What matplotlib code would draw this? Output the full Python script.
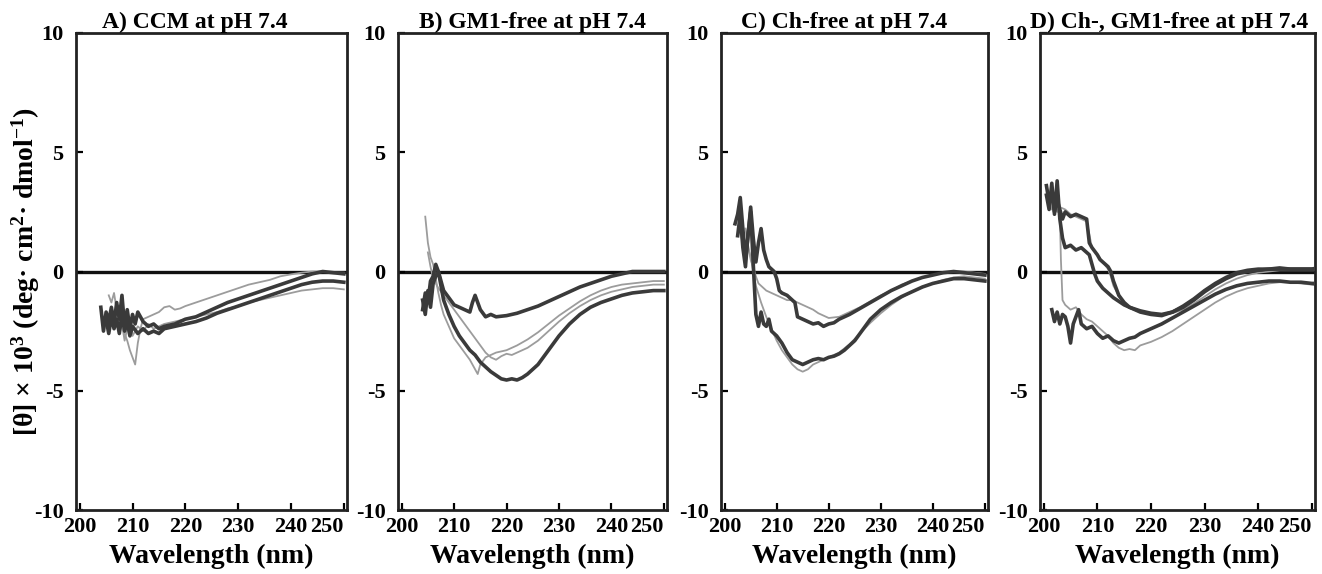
"""CD spectra of the peptide in four membrane compositions at pH 7.4."""

import matplotlib

matplotlib.use("Agg")
import matplotlib.pyplot as plt

plt.rcParams["font.family"] = ["Liberation Serif", "DejaVu Serif"]
plt.rcParams["font.weight"] = "bold"
plt.rcParams["axes.unicode_minus"] = False
plt.rcParams["mathtext.fontset"] = "custom"
plt.rcParams["mathtext.rm"] = "Liberation Serif:bold"
plt.rcParams["mathtext.bf"] = "Liberation Serif:bold"
plt.rcParams["mathtext.default"] = "rm"

titles = [
    "A) CCM at pH 7.4",
    "B) GM1-free at pH 7.4",
    "C) Ch-free at pH 7.4",
    "D) Ch-, GM1-free at pH 7.4",
]
x_ticks = [200, 210, 220, 230, 240, 250]
y_ticks = [-10, -5, 0, 5, 10]

# ---- panel A: CCM ----
a_dark1_wl = [204, 204.5, 205, 205.5, 206, 206.5, 207, 207.5, 208, 208.5, 209, 209.5, 210, 210.5, 211,
              212, 213, 214, 215, 216, 218, 220, 222, 224, 226, 228, 230, 232, 234, 236, 238, 240, 242,
              244, 246, 248, 250]
a_dark1 = [-1.5, -2.5, -1.7, -2.1, -1.5, -2.2, -1.3, -2.0, -1.0, -2.3, -1.6, -2.4, -1.8, -2.2, -1.7,
           -2.1, -2.3, -2.2, -2.4, -2.3, -2.2, -2.0, -1.9, -1.7, -1.5, -1.3, -1.15, -1.0, -0.85, -0.7,
           -0.55, -0.4, -0.25, -0.1, 0.0, -0.05, -0.1]
a_dark2_wl = [205, 205.5, 206, 206.5, 207, 207.5, 208, 208.5, 209, 209.5, 210, 211, 212, 213, 214, 215,
              216, 218, 220, 222, 224, 226, 228, 230, 232, 234, 236, 238, 240, 242, 244, 246, 248, 250]
a_dark2 = [-2.0, -2.6, -1.9, -2.4, -2.0, -2.6, -1.8, -2.5, -2.1, -2.7, -2.3, -2.6, -2.4, -2.6, -2.5, -2.6,
           -2.4, -2.3, -2.2, -2.1, -1.95, -1.75, -1.6, -1.45, -1.3, -1.15, -1.0, -0.85, -0.7, -0.55,
           -0.45, -0.4, -0.4, -0.45]
a_light1_wl = [205.5, 206, 206.5, 207, 207.5, 208, 208.5, 209, 209.5, 210, 210.5, 211, 211.5, 212, 213,
               214, 215, 216, 217, 218, 219, 220, 222, 224, 226, 228, 230, 232, 234, 236, 238, 240,
               242, 244, 246, 248, 250]
a_light1 = [-1.0, -1.3, -0.9, -1.6, -2.2, -1.8, -2.6, -2.9, -3.3, -3.6, -3.9, -3.0, -2.4, -2.0, -1.9,
            -1.8, -1.7, -1.5, -1.45, -1.6, -1.55, -1.45, -1.3, -1.15, -1.0, -0.85, -0.7, -0.55, -0.45,
            -0.35, -0.2, -0.12, -0.05, 0.0, 0.0, -0.05, -0.05]
a_light2_wl = [206, 206.5, 207, 207.5, 208, 208.5, 209, 209.5, 210, 211, 212, 213, 214, 215, 216, 218,
               220, 222, 224, 226, 228, 230, 232, 234, 236, 238, 240, 242, 244, 246, 248, 250]
a_light2 = [-1.6, -2.3, -1.9, -2.6, -2.2, -2.9, -2.4, -2.0, -2.7, -2.3, -2.5, -2.2, -2.4, -2.3, -2.2,
            -2.1, -2.0, -1.9, -1.8, -1.7, -1.55, -1.45, -1.3, -1.2, -1.1, -1.0, -0.9, -0.8, -0.75,
            -0.7, -0.7, -0.75]

# ---- panel B: GM1-free ----
b_dark1_wl = [204, 204.5, 205, 205.5, 206, 206.5, 207, 207.5, 208, 209, 210, 211, 212, 213, 213.5, 214,
              215, 216, 217, 218, 220, 222, 224, 226, 228, 230, 232, 234, 236, 238, 240, 242, 244, 246,
              248, 250]
b_dark1 = [-1.6, -0.9, -1.3, -0.4, -0.2, 0.3, 0.0, -0.4, -0.8, -1.1, -1.4, -1.5, -1.6, -1.7, -1.3, -1.0,
           -1.6, -1.9, -1.8, -1.9, -1.85, -1.75, -1.6, -1.45, -1.25, -1.05, -0.85, -0.65, -0.5, -0.35,
           -0.2, -0.1, 0.0, 0.0, 0.0, 0.0]
b_dark2_wl = [204, 204.5, 205, 205.5, 206, 206.5, 207, 207.5, 208, 209, 210, 211, 212, 213, 214, 215,
              216, 217, 218, 219, 220, 221, 222, 223, 224, 225, 226, 227, 228, 230, 232, 234, 236, 238,
              240, 242, 244, 246, 248, 250]
b_dark2 = [-1.2, -1.8, -0.8, -1.5, -0.5, -0.2, 0.0, -0.6, -1.2, -1.8, -2.3, -2.7, -3.0, -3.3, -3.5, -3.8,
           -4.0, -4.2, -4.35, -4.5, -4.55, -4.5, -4.55, -4.45, -4.3, -4.1, -3.9, -3.6, -3.3, -2.7, -2.2,
           -1.8, -1.5, -1.3, -1.15, -1.0, -0.9, -0.85, -0.8, -0.8]
b_light1_wl = [204.5, 205, 205.5, 206, 206.5, 207, 207.5, 208, 209, 210, 211, 212, 213, 214, 214.5, 215,
               216, 217, 218, 219, 220, 222, 224, 226, 228, 230, 232, 234, 236, 238, 240, 242, 244, 246,
               248, 250]
b_light1 = [2.3, 1.2, 0.6, 0.3, -0.3, -0.9, -1.4, -1.8, -2.3, -2.8, -3.1, -3.4, -3.7, -4.1, -4.3, -3.9,
            -3.6, -3.5, -3.4, -3.35, -3.3, -3.1, -2.85, -2.55, -2.2, -1.85, -1.55, -1.25, -1.0, -0.8,
            -0.65, -0.55, -0.5, -0.45, -0.4, -0.4]
b_light2_wl = [205, 205.5, 206, 206.5, 207, 208, 209, 210, 211, 212, 213, 214, 215, 216, 217, 218, 219,
               220, 221, 222, 224, 226, 228, 230, 232, 234, 236, 238, 240, 242, 244, 246, 248, 250]
b_light2 = [0.8, 0.2, -0.3, -0.5, -0.7, -1.0, -1.3, -1.6, -1.9, -2.2, -2.5, -2.8, -3.1, -3.4, -3.6, -3.7,
            -3.55, -3.45, -3.5, -3.4, -3.2, -2.9, -2.5, -2.1, -1.75, -1.45, -1.2, -1.0, -0.85, -0.75,
            -0.65, -0.6, -0.55, -0.55]

# ---- panel C: Ch-free ----
c_dark1_wl = [202, 202.5, 203, 203.5, 204, 204.5, 205, 205.5, 206, 206.5, 207, 207.5, 208, 208.5, 209,
              209.5, 210, 210.5, 211, 212, 213, 213.5, 214, 215, 216, 217, 218, 219, 220, 221, 222, 224,
              226, 228, 230, 232, 234, 236, 238, 240, 242, 244, 246, 248, 250]
c_dark1 = [2.0, 2.4, 3.1, 1.8, 0.5, 1.5, 2.7, 1.4, 0.4, 1.2, 1.8, 0.9, 0.5, 0.2, 0.1, 0.0, -0.3, -0.8,
           -0.9, -1.0, -1.2, -1.3, -1.9, -2.0, -2.1, -2.2, -2.15, -2.3, -2.2, -2.15, -2.0, -1.8, -1.55,
           -1.3, -1.05, -0.8, -0.6, -0.4, -0.25, -0.15, -0.05, 0.0, -0.05, -0.1, -0.15]
c_dark2_wl = [202.5, 203, 203.5, 204, 204.5, 205, 205.5, 206, 206.5, 207, 207.5, 208, 208.5, 209, 210,
              211, 212, 213, 214, 215, 216, 217, 218, 219, 220, 221, 222, 223, 224, 225, 226, 227, 228,
              230, 232, 234, 236, 238, 240, 242, 244, 246, 248, 250]
c_dark2 = [1.5, 2.4, 1.0, 0.2, 1.6, 2.5, 0.3, -1.8, -2.3, -1.7, -2.2, -2.3, -2.0, -2.5, -2.7, -3.0, -3.4,
           -3.7, -3.8, -3.9, -3.8, -3.7, -3.65, -3.7, -3.6, -3.55, -3.45, -3.3, -3.1, -2.9, -2.6, -2.3,
           -2.0, -1.6, -1.3, -1.05, -0.85, -0.65, -0.5, -0.4, -0.3, -0.3, -0.35, -0.4]
c_light1_wl = [203, 203.5, 204, 204.5, 205, 205.5, 206, 206.5, 207, 208, 209, 210, 211, 212, 213, 214,
               215, 216, 217, 218, 219, 220, 222, 224, 226, 228, 230, 232, 234, 236, 238, 240, 242, 244,
               246, 248, 250]
c_light1 = [1.6, 1.2, 0.8, 1.1, 0.5, 0.2, -0.2, -0.5, -0.6, -0.8, -0.9, -1.0, -1.1, -1.2, -1.2, -1.3,
            -1.4, -1.5, -1.6, -1.75, -1.85, -1.95, -1.9, -1.7, -1.5, -1.25, -1.0, -0.8, -0.55, -0.4,
            -0.25, -0.15, -0.05, 0.0, 0.0, -0.05, -0.1]
c_light2_wl = [204, 204.5, 205, 205.5, 206, 207, 208, 209, 210, 211, 212, 213, 214, 215, 216, 217, 218,
               219, 220, 222, 224, 226, 228, 230, 232, 234, 236, 238, 240, 242, 244, 246, 248, 250]
c_light2 = [1.8, 1.0, 0.6, 0.0, -0.6, -1.3, -1.9, -2.4, -2.9, -3.3, -3.6, -3.9, -4.1, -4.2, -4.1, -3.9,
            -3.8, -3.7, -3.6, -3.4, -3.05, -2.6, -2.15, -1.75, -1.4, -1.1, -0.85, -0.65, -0.5, -0.35,
            -0.25, -0.2, -0.25, -0.3]

# ---- panel D: Ch-, GM1-free ----
d_dark1_wl = [200.5, 201, 201.5, 202, 202.5, 203, 203.5, 204, 205, 206, 207, 208, 208.5, 209, 210,
              210.5, 211, 212, 212.5, 213, 214, 215, 216, 217, 218, 220, 222, 224, 226, 228, 230, 232,
              234, 236, 238, 240, 242, 244, 246, 248, 250, 251]
d_dark1 = [3.6, 2.9, 3.4, 2.5, 3.0, 2.6, 2.2, 2.5, 2.3, 2.4, 2.3, 2.2, 1.2, 1.0, 0.7, 0.5, 0.4, 0.2, 0.0,
           -0.4, -1.0, -1.3, -1.5, -1.6, -1.7, -1.8, -1.85, -1.7, -1.45, -1.15, -0.8, -0.5, -0.25, -0.05,
           0.05, 0.1, 0.1, 0.15, 0.1, 0.1, 0.1, 0.15]
d_dark2_wl = [200.5, 201, 201.5, 202, 202.5, 203, 203.5, 204, 205, 206, 207, 208, 208.5, 209, 209.5,
              210, 211, 212, 213, 214, 215, 216, 218, 220, 222, 224, 226, 228, 230, 232, 234, 236, 238,
              240, 242, 244, 246, 248, 250, 251]
d_dark2 = [3.2, 2.6, 3.7, 2.4, 3.8, 2.2, 1.4, 1.0, 1.1, 0.9, 1.0, 0.8, 0.7, 0.3, -0.1, -0.4, -0.7, -0.9,
           -1.1, -1.25, -1.4, -1.5, -1.65, -1.75, -1.8, -1.7, -1.5, -1.2, -0.85, -0.55, -0.3, -0.1,
           0.0, 0.05, 0.1, 0.1, 0.1, 0.1, 0.1, 0.1]
d_light1_wl = [201, 201.5, 202, 202.5, 203, 204, 205, 206, 207, 208, 209, 210, 211, 212, 212.5, 213, 214,
               215, 216, 218, 220, 222, 224, 226, 228, 230, 232, 234, 236, 238, 240, 242, 244, 246, 248,
               250, 251]
d_light1 = [3.0, 2.6, 2.9, 2.5, 2.7, 2.6, 2.4, 2.3, 2.2, 2.1, 1.0, 0.7, 0.4, 0.1, -0.2, -0.6, -1.0,
            -1.3, -1.5, -1.65, -1.75, -1.8, -1.75, -1.6, -1.35, -1.05, -0.75, -0.5, -0.3, -0.15, -0.05,
            0.0, 0.05, 0.05, 0.05, 0.05, 0.05]
d_dark3_wl = [201.5, 202, 202.5, 203, 203.5, 204, 204.5, 205, 205.5, 206, 206.5, 207, 208, 209, 210, 211,
              212, 213, 214, 215, 216, 217, 218, 219, 220, 222, 224, 226, 228, 230, 232, 234, 236, 238,
              240, 242, 244, 246, 248, 250, 251]
d_dark3 = [-1.6, -2.1, -1.7, -2.2, -1.8, -1.9, -2.3, -3.0, -2.2, -1.9, -1.6, -2.2, -2.4, -2.3, -2.6,
           -2.8, -2.7, -2.9, -3.0, -2.9, -2.8, -2.75, -2.6, -2.5, -2.4, -2.2, -1.95, -1.7, -1.45, -1.2,
           -0.95, -0.75, -0.6, -0.5, -0.45, -0.4, -0.4, -0.45, -0.45, -0.5, -0.5]
d_light2_wl = [202.5, 203, 203.2, 203.5, 204, 205, 206, 207, 208, 209, 210, 211, 212, 213, 214, 215, 216,
               217, 218, 220, 222, 224, 226, 228, 230, 232, 234, 236, 238, 240, 242, 244, 246, 248, 250,
               251]
d_light2 = [2.6, 2.4, 0.5, -1.2, -1.4, -1.6, -1.5, -1.8, -2.0, -2.1, -2.3, -2.5, -2.7, -3.0, -3.2, -3.3,
            -3.25, -3.3, -3.1, -2.95, -2.75, -2.5, -2.2, -1.9, -1.6, -1.3, -1.05, -0.85, -0.7, -0.6,
            -0.5, -0.45, -0.45, -0.5, -0.55, -0.6]

panels = [
    ([(a_dark1_wl, a_dark1), (a_dark2_wl, a_dark2)], [(a_light1_wl, a_light1), (a_light2_wl, a_light2)]),
    ([(b_dark1_wl, b_dark1), (b_dark2_wl, b_dark2)], [(b_light1_wl, b_light1), (b_light2_wl, b_light2)]),
    ([(c_dark1_wl, c_dark1), (c_dark2_wl, c_dark2)], [(c_light1_wl, c_light1), (c_light2_wl, c_light2)]),
    ([(d_dark1_wl, d_dark1), (d_dark2_wl, d_dark2), (d_dark3_wl, d_dark3)],
     [(d_light1_wl, d_light1), (d_light2_wl, d_light2)]),
]

# axes boxes in figure pixels: left, right; title centre as axes fraction
boxes = [(76, 347), (398, 667), (721, 988), (1040, 1315)]
title_x = [0.44, 0.5, 0.46, 0.47]
W, H = 1322, 574
top_px, bottom_px = 33, 510

fig = plt.figure(figsize=(W / 100, H / 100), dpi=100)

for (left, right), title, tx, (darks, lights) in zip(boxes, titles, title_x, panels):
    ax = fig.add_axes([left / W, 1 - bottom_px / H, (right - left) / W, (bottom_px - top_px) / H])
    ax.axhline(0, color="#111111", lw=2.4, zorder=1)
    for wl, val in lights:
        ax.plot(wl, val, color="#9c9c9c", lw=1.3, zorder=2)
    for wl, val in darks:
        ax.plot(wl, val, color="#3a3a3a", lw=2.6, zorder=3)
    ax.set_xlim(199.3, 250.6)
    ax.set_ylim(-10, 10)
    ax.set_xticks(x_ticks)
    ax.set_yticks(y_ticks)
    ax.tick_params(direction="in", length=5, width=1.6, labelsize=16, pad=5,
                   top=False, right=False)
    ax.tick_params(axis="y", pad=9)
    for lab in ax.get_xticklabels() + ax.get_yticklabels():
        lab.set_fontweight("bold")
    ax.get_xticklabels()[-1].set_horizontalalignment("right")
    for spine in ax.spines.values():
        spine.set_linewidth(2.0)
        spine.set_color("#222222")
    ax.set_title(title, fontsize=17, fontweight="bold", pad=2, x=tx)
    ax.set_xlabel("Wavelength (nm)", fontsize=20, fontweight="bold", labelpad=5)

fig.text(26 / W, 1 - (top_px + bottom_px) / 2 / H,
         "[θ] × 10$^{3}$ (deg· cm$^{2}$· dmol$^{-1}$)",
         rotation=90, ha="center", va="center", fontsize=20, fontweight="bold")

fig.savefig("out.png", dpi=100)
